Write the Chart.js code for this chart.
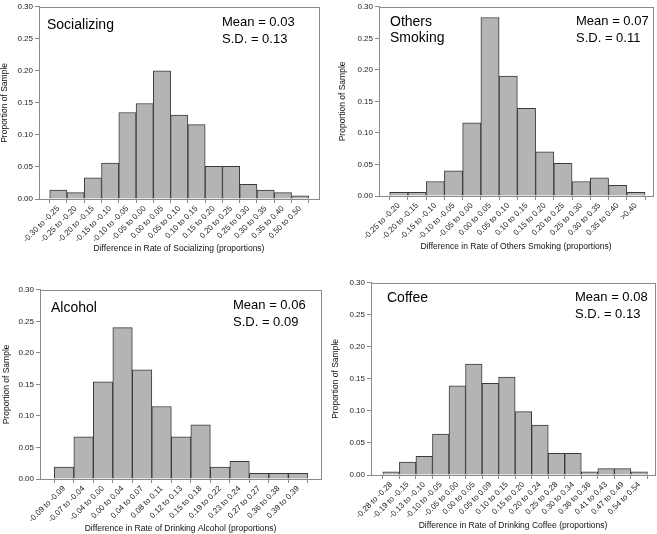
<!DOCTYPE html>
<html>
<head>
<meta charset="utf-8">
<script src="https://cdn.jsdelivr.net/npm/chart.js@4.4.1/dist/chart.umd.min.js"></script>
<style>
  html, body { margin: 0; padding: 0; background: #fff; }
  #wrap { position: relative; width: 657px; height: 534px; overflow: hidden; }
  .panel { position: absolute; }
</style>
</head>
<body>
<div id="wrap">
  <div class="panel" style="left:0px;top:0px;width:324px;height:254px"><canvas id="c1"></canvas></div>
  <div class="panel" style="left:338px;top:0px;width:319px;height:252px"><canvas id="c2"></canvas></div>
  <div class="panel" style="left:2px;top:283px;width:324px;height:251px"><canvas id="c3"></canvas></div>
  <div class="panel" style="left:331px;top:276px;width:326px;height:255px"><canvas id="c4"></canvas></div>
</div>
<script>
// values
const socializingLabels = ['-0.30 to -0.25', '-0.25 to -0.20', '-0.20 to -0.15', '-0.15 to -0.10', '-0.10 to -0.05',
    '-0.05 to 0.00', '0.00 to 0.05', '0.05 to 0.10', '0.10 to 0.15', '0.15 to 0.20', '0.20 to 0.25',
    '0.25 to 0.30', '0.30 to 0.35', '0.35 to 0.40', '0.50 to 0.50'];
const socializingValues = [0.014, 0.010, 0.033, 0.056, 0.135, 0.149, 0.200, 0.131, 0.116, 0.051, 0.051,
    0.023, 0.014, 0.010, 0.005];

const smokingLabels = ['-0.25 to -0.20', '-0.20 to -0.15', '-0.15 to -0.10', '-0.10 to -0.05', '-0.05 to 0.00',
    '0.00 to 0.05', '0.05 to 0.10', '0.10 to 0.15', '0.15 to 0.20', '0.20 to 0.25', '0.25 to 0.30',
    '0.30 to 0.35', '0.35 to 0.40', '>0.40'];
const smokingValues = [0.006, 0.006, 0.023, 0.040, 0.116, 0.283, 0.190, 0.139, 0.070, 0.052, 0.023,
    0.029, 0.017, 0.006];

const alcoholLabels = ['-0.09 to -0.09', '-0.07 to -0.04', '-0.04 to 0.00', '0.00 to 0.04', '0.04 to 0.07',
    '0.08 to 0.11', '0.12 to 0.13', '0.15 to 0.18', '0.19 to 0.22', '0.23 to 0.24', '0.27 to 0.27',
    '0.36 to 0.38', '0.39 to 0.39'];
const alcoholValues = [0.019, 0.067, 0.154, 0.240, 0.173, 0.115, 0.067, 0.086, 0.019, 0.028, 0.009,
    0.009, 0.009];

const coffeeLabels = ['-0.28 to -0.28', '-0.19 to -0.15', '-0.13 to -0.10', '-0.10 to -0.05', '-0.05 to 0.00',
    '0.00 to 0.05', '0.05 to 0.09', '0.10 to 0.15', '0.15 to 0.20', '0.20 to 0.24', '0.25 to 0.28',
    '0.30 to 0.34', '0.36 to 0.36', '0.41 to 0.43', '0.47 to 0.49', '0.54 to 0.54'];
const coffeeValues = [0.005, 0.020, 0.029, 0.064, 0.139, 0.173, 0.143, 0.153, 0.099, 0.078, 0.034,
    0.034, 0.005, 0.010, 0.010, 0.005];

const yTicks = [0, 0.05, 0.10, 0.15, 0.20, 0.25, 0.30];

const FONT = 'Arial, "Liberation Sans", sans-serif';
const AXIS_GRAY = '#8a8a8a';

// frame round the plot area plus the panel captions
const panelText = {
    id: 'panelText',
    afterDraw(chart, args, opts) {
        const { ctx, chartArea } = chart;
        ctx.save();
        ctx.strokeStyle = AXIS_GRAY;
        ctx.lineWidth = 1;
        ctx.strokeRect(Math.round(chartArea.left) + 0.5, Math.round(chartArea.top) + 0.5,
            Math.round(chartArea.right - chartArea.left), Math.round(chartArea.bottom - chartArea.top));
        ctx.fillStyle = '#000';
        ctx.textBaseline = 'middle';
        ctx.textAlign = 'left';
        ctx.font = '14px ' + FONT;
        opts.title.forEach((line, i) => {
            ctx.fillText(line, chartArea.left + opts.titleX, chartArea.top + opts.titleY + i * 16);
        });
        ctx.font = '13px ' + FONT;
        ctx.fillText(opts.mean, chartArea.left + opts.statX, chartArea.top + opts.statY);
        ctx.fillText(opts.sd, chartArea.left + opts.statX, chartArea.top + opts.statY + 17);
        ctx.restore();
    }
};

function makeChart(id, labels, values, p) {
    const ctx = document.getElementById(id).getContext('2d');
    return new Chart(ctx, {
        type: 'bar',
        data: {
            datasets: [{
                data: values.map((v, i) => ({ x: i, y: v })),
                backgroundColor: '#b4b4b4',
                borderColor: '#3a3a3a',
                borderWidth: 1,
                barPercentage: 1,
                categoryPercentage: 1,
            }],
        },
        options: {
            responsive: true,
            maintainAspectRatio: false,
            animation: false,
            layout: { padding: { top: 3, right: p.padRight, bottom: 0, left: 0 } },
            plugins: {
                legend: { display: false },
                tooltip: { enabled: false },
                panelText: p.text,
            },
            scales: {
                x: {
                    type: 'linear',
                    min: -p.padLeftBars,
                    max: labels.length - 1 + p.padRightBars,
                    afterFit: s => { s.height = p.xHeight; },
                    grid: { drawOnChartArea: false, tickLength: 4, color: AXIS_GRAY },
                    border: { color: AXIS_GRAY },
                    ticks: {
                        stepSize: 1,
                        includeBounds: false,
                        autoSkip: false,
                        maxRotation: 45,
                        minRotation: 45,
                        padding: 1,
                        color: '#222',
                        font: { family: FONT, size: 8 },
                        callback: v => (Number.isInteger(v) && labels[v] !== undefined ? labels[v] : ''),
                    },
                    title: {
                        display: true,
                        text: p.xTitle,
                        color: '#111',
                        padding: { top: 0, bottom: 0 },
                        font: { family: FONT, size: 8.5 },
                    },
                },
                y: {
                    min: 0,
                    max: 0.30,
                    afterFit: s => { s.width = p.yWidth; },
                    afterBuildTicks: s => { s.ticks = yTicks.map(v => ({ value: v })); },
                    grid: { drawOnChartArea: false, tickLength: 4, color: AXIS_GRAY },
                    border: { color: AXIS_GRAY },
                    ticks: {
                        padding: 2,
                        color: '#222',
                        font: { family: FONT, size: 8 },
                        callback: v => v.toFixed(2),
                    },
                    title: {
                        display: true,
                        text: 'Proportion of Sample',
                        color: '#111',
                        padding: { top: 0, bottom: 0 },
                        font: { family: FONT, size: 8.5 },
                    },
                },
            },
        },
        plugins: [panelText],
    });
}

makeChart('c1', socializingLabels, socializingValues, {
    padRight: 5, yWidth: 39, xHeight: 55, padLeftBars: 0.58, padRightBars: 0.55,
    xTitle: 'Difference in Rate of Socializing (proportions)',
    text: { title: ['Socializing'], titleX: 8, titleY: 18, mean: 'Mean = 0.03', sd: 'S.D. = 0.13', statX: 183, statY: 16 },
});
makeChart('c2', smokingLabels, smokingValues, {
    padRight: 4, yWidth: 41, xHeight: 56, padLeftBars: 0.55, padRightBars: 0.4,
    xTitle: 'Difference in Rate of Others Smoking (proportions)',
    text: { title: ['Others', 'Smoking'], titleX: 11, titleY: 15, mean: 'Mean = 0.07', sd: 'S.D. = 0.11', statX: 197, statY: 15 },
});
makeChart('c3', alcoholLabels, alcoholValues, {
    padRight: 5, yWidth: 38, xHeight: 55, padLeftBars: 0.68, padRightBars: 0.62,
    xTitle: 'Difference in Rate of Drinking Alcohol (proportions)',
    text: { title: ['Alcohol'], titleX: 11, titleY: 18, mean: 'Mean = 0.06', sd: 'S.D. = 0.09', statX: 193, statY: 16 },
});
makeChart('c4', coffeeLabels, coffeeValues, {
    padRight: 2, yWidth: 40, xHeight: 56, padLeftBars: 0.68, padRightBars: 0.42,
    xTitle: 'Difference in Rate of Drinking Coffee (proportions)',
    text: { title: ['Coffee'], titleX: 16, titleY: 15, mean: 'Mean = 0.08', sd: 'S.D. = 0.13', statX: 204, statY: 15 },
});
</script>
</body>
</html>
